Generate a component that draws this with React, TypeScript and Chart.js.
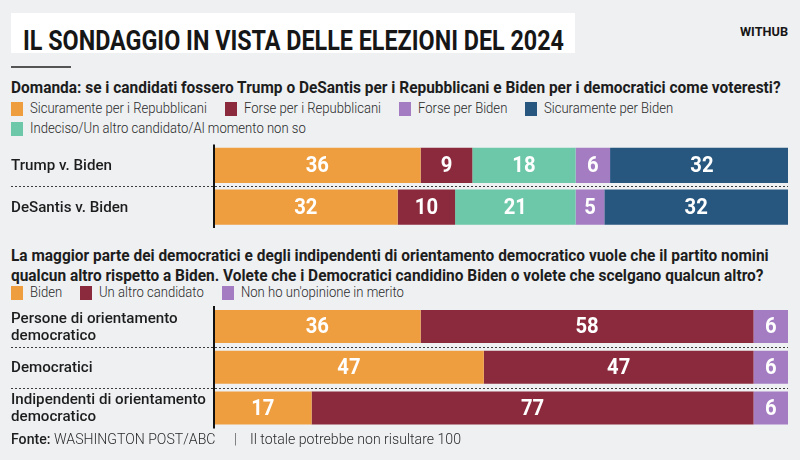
import React, { useEffect, useRef } from 'react';
import { Chart, registerables } from 'chart.js';

Chart.register(...registerables);

// ---------- texts ----------
const TITLE = 'IL SONDAGGIO IN VISTA DELLE ELEZIONI DEL 2024';
const BRAND = 'WITHUB';
const QUESTION_1 =
  'Domanda: se i candidati fossero Trump o DeSantis per i Repubblicani e Biden per i democratici come voteresti?';
const QUESTION_2_LINES = [
  'La maggior parte dei democratici e degli indipendenti di orientamento democratico vuole che il partito nomini',
  'qualcun altro rispetto a Biden. Volete che i Democratici candidino Biden o volete che scelgano qualcun altro?',
];
const SOURCE_LABEL = 'Fonte:';
const SOURCE = 'WASHINGTON POST/ABC';
const NOTE = 'Il totale potrebbe non risultare 100';

// ---------- chart 1 data ----------
const CATEGORIES_1 = ['Trump v. Biden', 'DeSantis v. Biden'];
const SERIES_1_NAMES = [
  'Sicuramente per i Repubblicani',
  'Forse per i Repubblicani',
  'Indeciso/Un altro candidato/Al momento non so',
  'Forse per Biden',
  'Sicuramente per Biden',
];
const SERIES_1_COLORS = ['#ef9e3f', '#8b2a3c', '#6dc7a9', '#a37cc2', '#27567f'];
const SURE_REP = [36, 32];
const MAYBE_REP = [9, 10];
const UNDECIDED = [18, 21];
const MAYBE_BIDEN = [6, 5];
const SURE_BIDEN = [32, 32];
const LEGEND_1_ROWS = [[0, 1, 3, 4], [2]];

// ---------- chart 2 data ----------
const CATEGORIES_2 = [
  ['Persone di orientamento', 'democratico'],
  ['Democratici'],
  ['Indipendenti di orientamento', 'democratico'],
];
const SERIES_2_NAMES = ['Biden', 'Un altro candidato', "Non ho un'opinione in merito"];
const SERIES_2_COLORS = ['#ef9e3f', '#8b2a3c', '#a37cc2'];
const BIDEN = [36, 47, 17];
const OTHER_CANDIDATE = [58, 47, 77];
const NO_OPINION = [6, 6, 6];

const SCALE_MAX = 100;

// ---------- text helpers ----------
let measureCtx: CanvasRenderingContext2D | null = null;
function measure(text: string, font: string): number {
  if (!measureCtx) measureCtx = document.createElement('canvas').getContext('2d');
  measureCtx!.font = font;
  return measureCtx!.measureText(text).width;
}

const FONT = 'Roboto, "Liberation Sans", sans-serif';
const STYLES: Record<string, { font: string; ref: string; width: number }> = {
  title: { font: `700 27px ${FONT}`, ref: TITLE, width: 541 },
  brand: { font: `700 12px ${FONT}`, ref: BRAND, width: 48 },
  question: { font: `700 16px ${FONT}`, ref: QUESTION_1, width: 770 },
  legend: { font: `300 14px ${FONT}`, ref: SERIES_1_NAMES[0], width: 177 },
  axis: { font: `500 15px ${FONT}`, ref: CATEGORIES_1[0], width: 101 },
  footer: { font: `300 14px ${FONT}`, ref: NOTE, width: 211 },
};
function styleScale(key: string): number {
  const s = STYLES[key];
  return s.width / measure(s.ref, s.font);
}

function Txt({ text, styleKey, color = '#1d1d1d', font }: { text: string; styleKey: string; color?: string; font?: string }) {
  const f = font || STYLES[styleKey].font;
  const s = styleScale(styleKey);
  const w = measure(text, f) * s;
  return (
    <span style={{ display: 'inline-block', width: w, height: 18, position: 'relative', verticalAlign: 'middle' }}>
      <span
        style={{
          position: 'absolute',
          left: 0,
          top: 0,
          lineHeight: '18px',
          font: f,
          color,
          whiteSpace: 'nowrap',
          transform: `scaleX(${s})`,
          transformOrigin: '0 50%',
        }}
      >
        {text}
      </span>
    </span>
  );
}

function Line({ x, cy, children }: { x: number; cy: number; children: React.ReactNode }) {
  return (
    <div style={{ position: 'absolute', left: x, top: cy - 9, height: 18, display: 'flex', alignItems: 'center', whiteSpace: 'nowrap' }}>
      {children}
    </div>
  );
}

function Legend({ cy, names, colors, order }: { cy: number; names: string[]; colors: string[]; order: number[] }) {
  return (
    <Line x={11} cy={cy}>
      {order.map((i, k) => (
        <span key={i} style={{ display: 'inline-flex', alignItems: 'center', marginRight: k < order.length - 1 ? 18 : 0 }}>
          <span style={{ display: 'inline-block', width: 12, height: 14, background: colors[i], marginRight: 7 }} />
          <Txt text={names[i]} styleKey="legend" color="#2a2a2a" />
        </span>
      ))}
    </Line>
  );
}

// ---------- chart overlay plugin ----------
const overlayPlugin = {
  id: 'overlay',
  afterDatasetsDraw(chart: any, _args: any, opts: any) {
    const { ctx, chartArea } = chart;
    const yScale = chart.scales.y;
    const labels: string[][] = chart.data.labels;
    const n = labels.length;
    ctx.save();
    // dotted separators between rows
    ctx.strokeStyle = '#3c3c3c';
    ctx.lineWidth = 1;
    ctx.setLineDash([2, 2]);
    for (let i = 0; i < n - 1; i++) {
      const yy = Math.round((yScale.getPixelForValue(i) + yScale.getPixelForValue(i + 1)) / 2) + 0.5;
      ctx.beginPath();
      ctx.moveTo(opts.labelX, yy);
      ctx.lineTo(chartArea.right, yy);
      ctx.stroke();
    }
    ctx.setLineDash([]);
    // vertical axis line
    ctx.strokeStyle = '#111';
    ctx.lineWidth = 2;
    ctx.beginPath();
    ctx.moveTo(chartArea.left, chartArea.top);
    ctx.lineTo(chartArea.left, chartArea.bottom);
    ctx.stroke();
    // value labels
    ctx.fillStyle = '#ffffff';
    ctx.textAlign = 'center';
    ctx.textBaseline = 'middle';
    ctx.font = opts.valueFont;
    chart.data.datasets.forEach((ds: any, di: number) => {
      const meta = chart.getDatasetMeta(di);
      meta.data.forEach((el: any, i: number) => {
        const p = el.getProps(['x', 'base', 'y'], true);
        const cx = (p.x + p.base) / 2;
        ctx.save();
        ctx.translate(cx, p.y + 1);
        ctx.scale(opts.valueScale, 1);
        ctx.fillText(String(ds.data[i]), 0, 0);
        ctx.restore();
      });
    });
    // category labels
    ctx.fillStyle = '#1d1d1d';
    ctx.textAlign = 'left';
    ctx.font = opts.labelFont;
    labels.forEach((lab: any, i: number) => {
      const lines: string[] = Array.isArray(lab) ? lab : [lab];
      const cy = yScale.getPixelForValue(i);
      lines.forEach((ln, k) => {
        const yy = cy + (k - (lines.length - 1) / 2) * opts.lineHeight + 1;
        ctx.save();
        ctx.translate(opts.labelX, yy);
        ctx.scale(opts.labelScale, 1);
        ctx.fillText(ln, 0, 0);
        ctx.restore();
      });
    });
    ctx.restore();
  },
};

function BarPanel({
  top,
  height,
  padTop,
  padBottom,
  barPct,
  labels,
  names,
  colors,
  series,
}: {
  top: number;
  height: number;
  padTop: number;
  padBottom: number;
  barPct: number;
  labels: any[];
  names: string[];
  colors: string[];
  series: number[][];
}) {
  const ref = useRef<HTMLCanvasElement>(null);
  useEffect(() => {
    if (!ref.current) return;
    const chart = new Chart(ref.current, {
      type: 'bar',
      data: {
        labels,
        datasets: series.map((d, i) => ({
          label: names[i],
          data: d,
          backgroundColor: colors[i],
          borderWidth: 0,
          categoryPercentage: 1,
          barPercentage: barPct,
        })),
      },
      options: {
        indexAxis: 'y',
        animation: false,
        responsive: false,
        maintainAspectRatio: false,
        layout: { padding: { left: 214, right: 12, top: padTop, bottom: padBottom } },
        scales: {
          x: { stacked: true, min: 0, max: SCALE_MAX, display: false },
          y: { stacked: true, display: false },
        },
        plugins: {
          legend: { display: false },
          tooltip: { enabled: false },
          overlay: {
            labelX: 11,
            labelFont: STYLES.axis.font,
            labelScale: styleScale('axis'),
            lineHeight: 17,
            valueFont: `700 22px ${FONT}`,
            valueScale: 0.92,
          },
        },
      } as any,
      plugins: [overlayPlugin as any],
    });
    return () => chart.destroy();
  }, []);
  return <canvas ref={ref} width={800} height={height} style={{ position: 'absolute', left: 0, top, width: 800, height }} />;
}

export default function App() {
  return (
    <div
      style={{
        position: 'absolute',
        left: 0,
        top: 0,
        width: 800,
        height: 460,
        background: '#eef0f2',
        overflow: 'hidden',
        fontFamily: FONT,
      }}
    >
      <div style={{ position: 'absolute', left: 11, top: 13, width: 564, height: 40, background: '#ffffff' }} />
      <Line x={23} cy={34}>
        <Txt text={TITLE} styleKey="title" color="#161616" />
      </Line>
      <Line x={740} cy={34}>
        <Txt text={BRAND} styleKey="brand" color="#161616" />
      </Line>
      <div style={{ position: 'absolute', left: 11, top: 66, width: 60, height: 1.5, background: '#555' }} />

      <Line x={11} cy={87}>
        <Txt text={QUESTION_1} styleKey="question" />
      </Line>
      <Legend cy={108.5} names={SERIES_1_NAMES} colors={SERIES_1_COLORS} order={LEGEND_1_ROWS[0]} />
      <Legend cy={128.5} names={SERIES_1_NAMES} colors={SERIES_1_COLORS} order={LEGEND_1_ROWS[1]} />

      <BarPanel
        top={140}
        height={95}
        padTop={4.5}
        padBottom={7}
        barPct={0.84}
        labels={CATEGORIES_1}
        names={SERIES_1_NAMES}
        colors={SERIES_1_COLORS}
        series={[SURE_REP, MAYBE_REP, UNDECIDED, MAYBE_BIDEN, SURE_BIDEN]}
      />

      <Line x={11} cy={255}>
        <Txt text={QUESTION_2_LINES[0]} styleKey="question" />
      </Line>
      <Line x={11} cy={275}>
        <Txt text={QUESTION_2_LINES[1]} styleKey="question" />
      </Line>
      <Legend cy={292.5} names={SERIES_2_NAMES} colors={SERIES_2_COLORS} order={[0, 1, 2]} />

      <BarPanel
        top={300}
        height={135}
        padTop={6}
        padBottom={6.5}
        barPct={0.81}
        labels={CATEGORIES_2}
        names={SERIES_2_NAMES}
        colors={SERIES_2_COLORS}
        series={[BIDEN, OTHER_CANDIDATE, NO_OPINION]}
      />

      <Line x={11} cy={440}>
        <Txt text={SOURCE_LABEL} styleKey="footer" font={`500 14px ${FONT}`} color="#1d1d1d" />
        <span style={{ width: 4 }} />
        <Txt text={SOURCE} styleKey="footer" color="#2a2a2a" />
        <span style={{ display: 'inline-block', width: 18 }} />
        <Txt text="|" styleKey="footer" color="#555" />
        <span style={{ display: 'inline-block', width: 13 }} />
        <Txt text={NOTE} styleKey="footer" color="#2a2a2a" />
      </Line>
    </div>
  );
}
